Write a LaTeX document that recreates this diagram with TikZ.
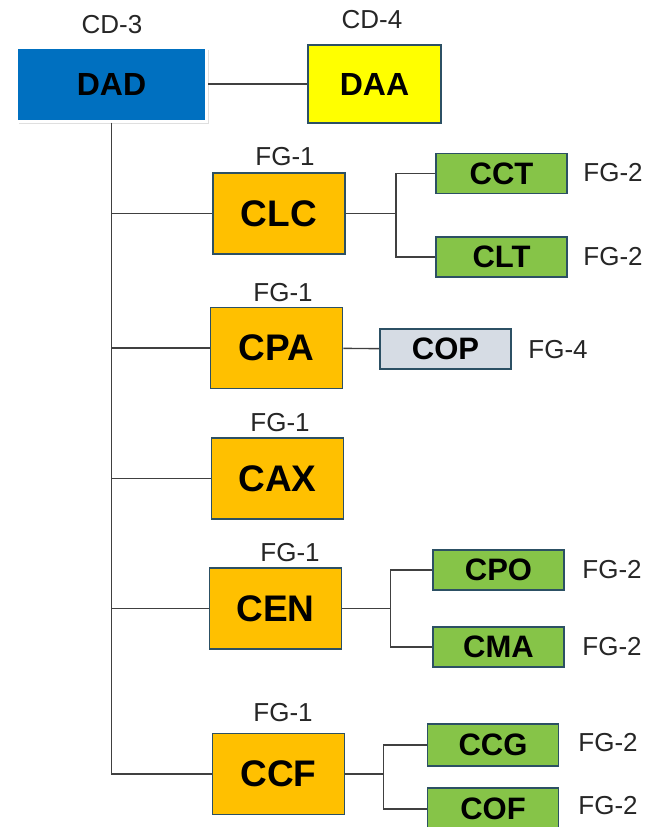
\documentclass[tikz,border=0pt]{standalone}
\usepackage{fontspec}
\setmainfont{Liberation Sans}
\usepackage{tikz}
\usetikzlibrary{shadows}
\usepackage{xcolor}
\definecolor{dadblue}{RGB}{0,112,192}
\definecolor{daayellow}{RGB}{255,255,0}
\definecolor{fgorange}{RGB}{255,192,0}
\definecolor{fggreen}{RGB}{134,196,72}
\definecolor{copgrey}{RGB}{214,220,228}
\definecolor{edgeblue}{RGB}{44,80,100}
\definecolor{linegrey}{RGB}{64,64,64}

\begin{document}
\begin{tikzpicture}[x=1pt, y=-1pt,
    boxo/.style={rectangle, draw=edgeblue, line width=1.8pt, fill=fgorange,
        minimum width=132pt, minimum height=81pt, inner sep=0pt,
        font=\fontsize{37}{40}\selectfont\bfseries},
    boxg/.style={rectangle, draw=edgeblue, line width=1.8pt, fill=fggreen,
        minimum width=131pt, minimum height=40pt, inner sep=0pt,
        font=\fontsize{31}{34}\selectfont\bfseries},
    boxc/.style={boxg, fill=copgrey},
    lbl/.style={font=\fontsize{26}{28}\selectfont, text=black!85},
    ln/.style={draw=linegrey, line width=1.4pt}
]
    \useasboundingbox (0,0) rectangle (649,827);

    % top level
    \node[rectangle, fill=dadblue, draw=white, line width=3pt,
        drop shadow={opacity=0.25, shadow xshift=2pt, shadow yshift=-3pt},
        minimum width=190pt, minimum height=74pt, inner sep=0pt,
        font=\fontsize{32}{35}\selectfont\bfseries] (dad) at (111.5,84) {DAD};
    \node[rectangle, fill=daayellow, draw=edgeblue, line width=1.8pt,
        minimum width=133pt, minimum height=78pt, inner sep=0pt,
        font=\fontsize{32}{35}\selectfont\bfseries] (daa) at (374.5,84) {DAA};
    \node[lbl] (cd3) at (112,25) {CD-3};
    \node[lbl] (cd4) at (372,20) {CD-4};

    % FG-1 level
    \node[boxo] (clc) at (279,213.5) {CLC};
    \node[boxo] (cpa) at (276.5,348) {CPA};
    \node[boxo] (cax) at (277.5,478.5) {CAX};
    \node[boxo] (cen) at (275.5,608.5) {CEN};
    \node[boxo] (ccf) at (278.5,774) {CCF};
    \node[lbl] (fgclc) at (285,157) {FG-1};
    \node[lbl] (fgcpa) at (283,293) {FG-1};
    \node[lbl] (fgcax) at (280,423) {FG-1};
    \node[lbl] (fgcen) at (290,553) {FG-1};
    \node[lbl] (fgccf) at (283,713) {FG-1};

    % leaves
    \node[boxg] (cct) at (501.5,173.5) {CCT};
    \node[boxg] (clt) at (501.5,257) {CLT};
    \node[boxc] (cop) at (445.5,349) {COP};
    \node[boxg] (cpo) at (498.5,570) {CPO};
    \node[boxg] (cma) at (498.5,647) {CMA};
    \node[boxg, minimum height=42pt] (ccg) at (493,745) {CCG};
    \node[boxg, minimum height=42pt] (cof) at (493,809) {COF};
    \node[lbl] (fgcct) at (613,173) {FG-2};
    \node[lbl] (fgclt) at (613,257) {FG-2};
    \node[lbl] (fgcop) at (558,350) {FG-4};
    \node[lbl] (fgcpo) at (612,570) {FG-2};
    \node[lbl] (fgcma) at (612,647) {FG-2};
    \node[lbl] (fgccg) at (608,743) {FG-2};
    \node[lbl] (fgcof) at (608,806) {FG-2};

    % connectors
    \draw[ln] (dad) -- (daa);
    \draw[ln] (dad.south) -- (dad.south |- ccf.west) -- (ccf.west);
    \foreach \n in {clc,cpa,cax,cen}
        \draw[ln] (\n.west) -- (\n.west -| dad.south);
    \draw[ln] (cpa) -- (cop);

    \draw[ln] (clc.east) -- ++(50,0) coordinate (jclc);
    \draw[ln] (cct.west) -| (jclc) |- (clt.west);
    \draw[ln] (cen.east) -- ++(48,0) coordinate (jcen);
    \draw[ln] (cpo.west) -| (jcen) |- (cma.west);
    \draw[ln] (ccf.east) -- ++(38,0) coordinate (jccf);
    \draw[ln] (ccg.west) -| (jccf) |- (cof.west);
\end{tikzpicture}
\end{document}
